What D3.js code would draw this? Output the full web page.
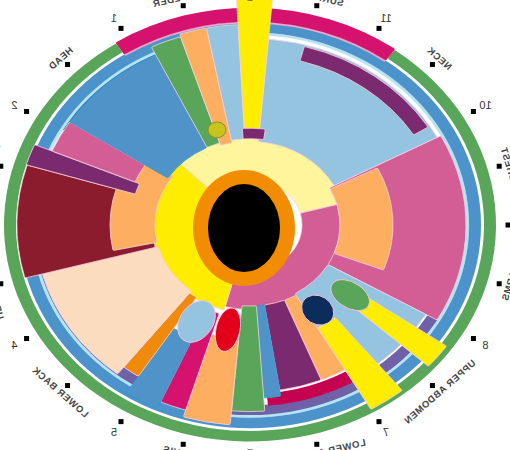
<!DOCTYPE html>
<html><head><meta charset="utf-8">
<script src="https://cdn.jsdelivr.net/npm/d3@7"></script>
<style>html,body{margin:0;padding:0;background:#fff;overflow:hidden}</style>
</head><body>
<svg id="c" width="510" height="450"></svg>
<script>
// ---------- data ----------
// outer stacked sectors: colour group, angular span (deg, clockwise from top), radial value range
const barGroup = ["lightblue","purple","pink","orange","lightblue","yellow","yellow","orange","purple","blue","green","orange","magenta","blue","amber","beige","darkred","orange","purple","pink","blue","green","orange","lightblue","yellow","purple"];
const barStart = [5,15,62,63,120,125,141,150,158,171,176,185,197,204,213,218,255,258,287,293,303,334,342,349,357,356];
const barEnd   = [62,58,120,111,150,132,150,158,171,176,185,197,204,213,218,255,287,306,293,303,334,342,349,357,365,368];
const barLow   = [95,193,90,90,90,138,135,92,92,92,92,130,105,140,98,95,98,95,120,125,98,98,95,98,100,98];
const barHigh  = [212,210,216,143,203,240,242,190,190,197,212,228,220,228,205,215,233,140,234,215,215,225,228,228,258,110];

// inner ring
const innerGroup = ["paleyellow","pink","yellow"];
const innerStart = [315,75,195];
const innerEnd   = [435,195,315];
const innerLow   = [52,52,52];
const innerHigh  = [108,96,100];

// outer bands
const bandGroup = ["lavender","darkblue","cyan","ring","crimson","green","pinkline","magenta"];
const bandStart = [120,300,0,0,150,36,-33,-33];
const bandEnd   = [270,335,360,360,175,327,36,36];
const bandLow   = [205,208,216,219,192,234,229,231];
const bandHigh  = [217,219,219,231,206,246,231,247];

// point markers
const dotGroup = ["green","navy","lightblue","red","olive"];
const dotAngle = [128.5,145,206,190.5,343];
const dotValue = [128,118,122,121,113];
const dotLen   = [44,36,50,50,18];
const dotWid   = [28,30,34,24,18];

// tick labels
const hourAngles = [0,30,60,90,120,150,180,210,240,270,300,330];
const hourLabels = ["12","11","10","9","8","7","6","5","4","3","2","1"];
const zoneAngles = [15,45,75,105,135,165,195,225,255,285,315,345];
const zoneLabels = ["SURFACE","NECK","CHEST","ARMS","UPPER ABDOMEN","LOWER ABDOMEN","PELVIS","LOWER BACK","UPPER BACK","THORAX","HEAD","SHOULDER"];

// ---------- styles ----------
const colorKeys = ["yellow","lightblue","purple","pink","orange","darkred","beige","blue","green","magenta","red","navy","amber","paleyellow","lavender","darkblue","cyan","ring","crimson","pinkline","olive"];
const colorVals = ["#ffed00","#94c4df","#7b2a6f","#d35e96","#fdae61","#8a1c2e","#fbdcbe","#4f93c8","#59a55a","#d6126f","#e2001a","#0c2c5c","#ef8a0b","#fef59c","#6e61a8","#3572a6","#b5e4f3","#4d93cb","#c5024f","#f2a7c4","#c8c41e"];

const CX = 250, CY = 225, SY = 0.88;
const svg = d3.select("#c");
const ang = d3.scaleLinear().domain([0,360]).range([0, 2*Math.PI]);
const rad = d3.scaleLinear().domain([0,260]).range([0,260]);
const color = d3.scaleOrdinal().domain(colorKeys).range(colorVals);

const g = svg.append("g").attr("transform", `translate(${CX},${CY}) scale(1,${SY})`);
const arc = d3.arc()
  .startAngle(d => ang(d.a0)).endAngle(d => ang(d.a1))
  .innerRadius(d => rad(d.v0)).outerRadius(d => rad(d.v1))
  .cornerRadius(1.5);

function rows(grp, s, e, lo, hi){
  return grp.map((k,i) => ({k, a0:s[i], a1:e[i], v0:lo[i], v1:hi[i]}));
}

// bands
g.append("g").selectAll("path").data(rows(bandGroup,bandStart,bandEnd,bandLow,bandHigh))
  .join("path").attr("d", arc).attr("fill", d => color(d.k));

// inner ring
g.append("g").selectAll("path").data(rows(innerGroup,innerStart,innerEnd,innerLow,innerHigh))
  .join("path").attr("d", arc).attr("fill", d => color(d.k))
  .attr("stroke","#f7d2e2").attr("stroke-width",0.8).attr("vector-effect","non-scaling-stroke");

// outer sectors
g.append("g").selectAll("path").data(rows(barGroup,barStart,barEnd,barLow,barHigh))
  .join("path").attr("d", arc).attr("fill", d => color(d.k))
  .attr("stroke", d => d.k === "blue" ? "#2a9bd6" : "#f7cfe0")
  .attr("stroke-width",0.8).attr("vector-effect","non-scaling-stroke");

// dots
g.append("g").selectAll("ellipse").data(dotGroup.map((k,i)=>({k, a:dotAngle[i], v:dotValue[i], l:dotLen[i], w:dotWid[i]})))
  .join("ellipse")
  .attr("transform", d => `rotate(${d.a}) translate(0,${-rad(d.v)})`)
  .attr("rx", d => d.w/2).attr("ry", d => d.l/2)
  .attr("fill", d => color(d.k))
  .attr("stroke", d => d.k === "olive" ? "#8f8c1a" : "#f3c4d8").attr("stroke-width",1)
  .attr("vector-effect","non-scaling-stroke");

// hub
const hub = svg.append("g").attr("transform", `translate(${CX-6},${CY+3})`);
hub.append("ellipse").attr("rx",51).attr("ry",58).attr("fill","#f28c00");
hub.append("ellipse").attr("rx",36).attr("ry",44).attr("fill","#000");

// ---------- labels ----------
function pos(deg, r){
  const t = ang(deg);
  return [CX + rad(r)*Math.sin(t), CY - rad(r)*Math.cos(t)*SY];
}
const lab = svg.append("g");
lab.selectAll("rect").data(d3.range(0,360,15)).join("rect")
  .attr("x", d => pos(d,258)[0]-2.5).attr("y", d => pos(d,258)[1]-2.5)
  .attr("width",5).attr("height",5).attr("fill","#000");

lab.selectAll("text.h").data(hourLabels.map((t,i)=>({t, a:hourAngles[i]}))).join("text")
  .attr("class","h")
  .attr("transform", d => { const p = pos(d.a,272); return `translate(${p[0]},${p[1]}) scale(-1,1)`; })
  .attr("text-anchor","middle").attr("dominant-baseline","central")
  .attr("font-family","Liberation Sans, Arial, sans-serif").attr("font-size",11)
  .attr("fill","#333").text(d => d.t);

lab.selectAll("text.z").data(zoneLabels.map((t,i)=>({t, a:zoneAngles[i]}))).join("text")
  .attr("class","z")
  .attr("transform", d => {
    const p = pos(d.a,268), t = ang(d.a);
    let rot = Math.atan2(Math.sin(t)*SY, Math.cos(t))*180/Math.PI;
    if (d.a > 90 && d.a < 270) rot -= 180;
    return `translate(${p[0]},${p[1]}) rotate(${rot}) scale(-1,1)`;
  })
  .attr("text-anchor","middle").attr("dominant-baseline","central")
  .attr("font-family","Liberation Sans, Arial, sans-serif").attr("font-size",9.5)
  .attr("font-weight","bold").attr("letter-spacing",0.6)
  .attr("fill","#444").text(d => d.t);
</script>
</body></html>
